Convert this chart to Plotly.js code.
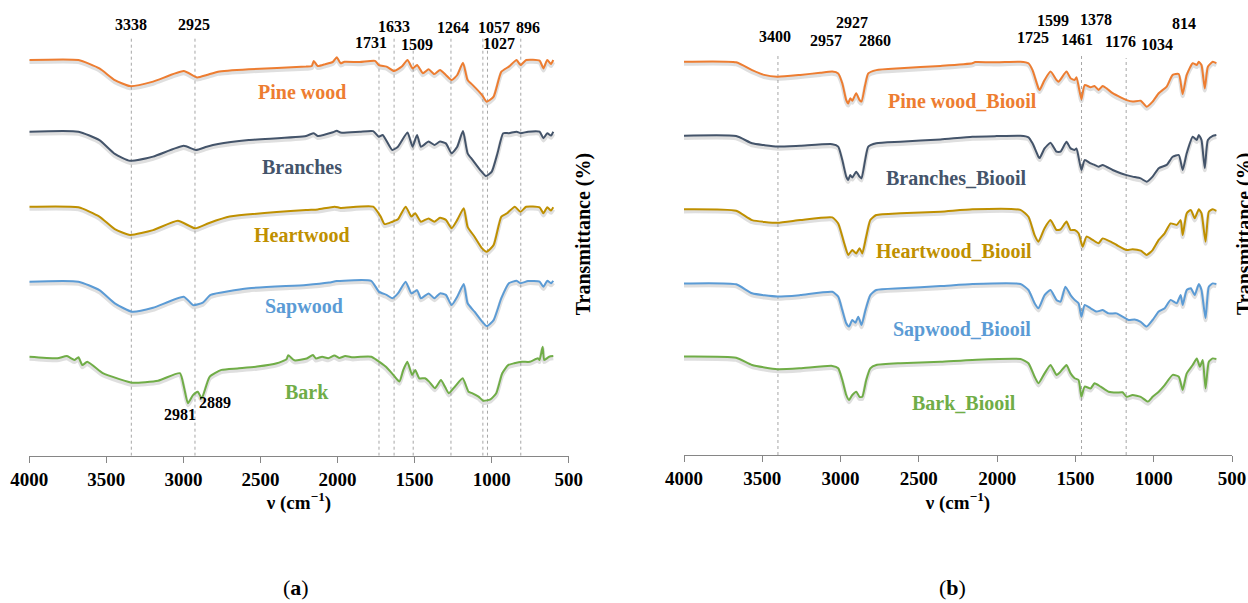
<!DOCTYPE html>
<html><head><meta charset="utf-8">
<script src="https://cdn.plot.ly/plotly-3.0.1.min.js"></script>
<style>html,body{margin:0;padding:0;background:#fff}#chart{width:1248px;height:603px}</style>
</head><body><div id="chart"></div>
<script>
// ---------- DATA (a): wood samples ----------
const seriesA = ['Pine wood','Branches','Heartwood','Sapwood','Bark'];
const offsetsA = [100, 75, 50, 25, 0];
const colors = ['#ED7D31','#44546A','#BF9000','#5B9BD5','#70AD47'];

const wnPine = [4000,3681,3545,3445,3346,3197,2998,2911,2849,2775,2576,2204,2167,2154,2129,2080,2030,2005,1980,1955,1856,1757,1732,1682,1633,1583,1546,1513,1484,1446,1409,1372,1335,1297,1260,1223,1186,1156,1124,1062,1032,987,937,888,838,813,776,689,664,639,615,600];
const tPine  = [31.9,31.9,29.1,25.2,23.2,24.7,28.2,26.1,26.9,28.0,28.8,29.7,29.9,31.6,29.9,30.5,31.3,32.8,30.8,31.3,31.2,31.6,30.2,29.7,28.2,29.7,31.9,29.1,30.2,27.5,28.8,27.2,28.6,26.9,25.2,26.9,31.0,25.2,23.6,20.2,18.0,19.7,28.0,29.7,31.9,30.2,31.9,31.7,29.1,31.9,30.6,31.9];

const wnBranches = [4000,3681,3545,3445,3346,3197,2998,2919,2849,2775,2576,2204,2154,2129,2030,2005,1980,1856,1769,1732,1707,1645,1608,1546,1513,1484,1459,1409,1372,1335,1297,1260,1223,1186,1156,1124,1074,1037,999,962,925,888,838,813,764,689,664,639,615,600];
const tBranches  = [33.0,33.0,30.2,25.6,23.3,24.7,28.3,26.9,28.0,28.9,30.2,31.6,32.5,31.6,32.8,33.3,32.7,33.0,33.2,31.3,31.9,26.9,28.0,32.7,28.0,31.9,28.0,29.7,28.6,29.7,29.1,25.8,28.0,33.2,25.8,23.6,20.2,18.2,19.7,25.8,32.5,32.5,33.0,32.5,33.0,33.0,30.8,32.5,31.7,33.0];

const wnHeart = [4000,3681,3545,3445,3346,3197,3036,2924,2837,2700,2204,2129,2018,1980,1769,1720,1695,1645,1608,1558,1521,1496,1459,1409,1372,1335,1297,1260,1223,1181,1156,1111,1062,1032,987,937,900,850,813,776,689,664,639,615,600];
const tHeart  = [33.0,32.8,29.7,25.5,23.6,25.2,28.3,25.8,27.5,29.7,31.9,32.1,33.0,32.6,33.0,29.7,27.2,28.0,28.8,33.0,29.7,30.8,28.0,29.1,28.0,29.3,28.6,25.8,28.6,32.5,26.3,23.0,19.1,18.0,20.2,29.7,30.8,33.0,31.3,33.0,32.8,30.8,32.8,31.7,32.8];

const wnSap = [4000,3681,3545,3445,3334,3197,2998,2936,2874,2824,2576,2204,2055,2005,1782,1732,1682,1645,1608,1558,1521,1484,1459,1409,1372,1335,1297,1260,1223,1181,1156,1111,1062,1032,987,937,888,838,813,764,689,664,639,615,600];
const tSap  = [33.0,33.0,30.2,25.8,23.0,24.3,28.0,25.2,26.0,28.6,30.8,31.9,32.7,33.2,33.3,29.7,28.6,27.5,29.1,33.0,29.1,30.2,27.5,29.1,27.5,29.1,28.6,25.2,28.0,32.2,25.8,23.0,19.7,18.2,20.2,27.5,32.5,33.3,32.5,33.2,33.0,31.3,33.3,32.5,33.3];

const wnBark = [4000,3818,3756,3706,3681,3656,3624,3523,3420,3330,3164,3023,2997,2971,2938,2907,2881,2830,2753,2650,2522,2394,2330,2320,2280,2200,2160,2140,2100,2060,2020,1990,1950,1900,1850,1780,1752,1688,1637,1598,1573,1547,1516,1496,1470,1432,1406,1368,1329,1303,1278,1239,1188,1150,1124,1085,1054,1008,970,931,893,854,803,752,700,689,669,659,627,600];
const tBark  = [33.0,32.5,33.2,31.9,32.8,30.2,31.3,27.5,25.6,24.3,25.0,27.5,23.0,17.5,20.2,21.3,19.1,26.3,28.6,29.1,29.7,30.8,32.2,33.5,31.8,32.4,33.6,32.4,33.0,32.5,33.4,32.6,33.2,32.8,33.0,33.0,32.1,29.7,26.9,24.7,28.6,31.3,26.9,28.6,25.8,25.8,24.7,22.5,25.2,23.0,20.8,23.0,25.8,21.3,20.8,19.7,18.3,18.8,20.8,27.5,30.2,30.8,31.3,31.3,32.5,31.9,36.3,31.9,33.0,33.2];

// ---------- DATA (b): bio-oils ----------
const seriesB = ['Pine wood_Biooil','Branches_Biooil','Heartwood_Biooil','Sapwood_Biooil','Bark_Biooil'];
const offsetsB = [100, 75, 50, 25, 0];

const wnPineB = [4000,3667,3565,3488,3404,3258,3130,3053,3015,2989,2964,2951,2938,2925,2900,2879,2866,2843,2823,2772,2618,2362,2158,2140,2004,1851,1800,1774,1736,1728,1697,1659,1621,1608,1557,1531,1505,1493,1462,1441,1403,1378,1352,1326,1301,1262,1211,1173,1135,1083,1045,1007,968,917,879,840,815,789,751,725,712,695,674,654,623,600];
const tPineB  = [31.1,30.9,28.3,26.7,26.1,26.7,27.4,27.8,27.2,23.9,18.3,17.2,18.9,18.1,20.6,18.3,17.8,23.3,27.2,28.3,28.9,29.7,30.6,31.0,30.9,31.1,30.6,28.3,22.2,21.7,25.0,27.8,25.0,24.4,27.8,25.6,25.0,25.9,18.6,23.3,22.6,23.0,21.7,23.0,22.2,20.6,19.2,18.3,17.8,18.1,16.1,17.8,20.6,22.8,26.7,27.0,20.3,26.7,30.6,30.0,31.1,30.0,22.2,29.4,31.1,30.6];

const wnBranchesB = [4000,3667,3565,3488,3404,3258,3053,3015,2989,2964,2951,2938,2925,2900,2879,2866,2843,2823,2772,2618,2362,2158,2004,1851,1800,1774,1736,1728,1697,1659,1621,1595,1557,1531,1505,1493,1462,1441,1403,1378,1352,1326,1262,1211,1173,1135,1083,1045,1007,968,917,879,840,815,789,751,725,712,695,674,654,623,600];
const tBranchesB  = [31.4,31.3,28.9,28.3,27.8,28.1,28.6,27.8,23.3,17.8,16.7,18.3,17.5,19.4,17.8,17.2,23.3,27.8,28.9,29.4,30.2,31.1,31.3,31.4,30.9,28.9,24.4,24.0,27.2,29.1,26.1,26.1,29.4,27.2,26.7,27.2,20.0,23.3,22.2,21.7,21.1,21.7,20.0,18.9,18.3,17.8,17.2,16.1,17.8,20.6,21.7,24.4,25.0,20.0,25.6,31.1,30.0,31.7,30.0,20.6,30.0,31.4,31.7];

const wnHeartB = [4000,3667,3565,3404,3258,3053,3015,2977,2951,2925,2900,2879,2861,2836,2810,2772,2618,2362,2158,1851,1800,1761,1736,1697,1659,1621,1595,1557,1531,1505,1480,1454,1429,1390,1352,1326,1275,1237,1173,1135,1083,1045,1007,968,930,892,853,828,815,789,763,738,712,695,669,648,623,600];
const tHeartB  = [31.9,31.4,28.3,27.4,28.3,29.2,27.2,20.6,16.7,18.3,17.2,18.9,17.2,22.8,28.3,30.0,30.6,31.1,31.9,31.7,29.4,23.3,21.1,25.6,28.3,25.0,25.2,27.8,25.0,25.0,23.9,19.4,22.8,21.7,20.6,22.2,21.1,20.0,18.3,18.6,18.1,16.7,18.3,21.7,23.9,27.2,26.7,28.3,23.3,30.6,31.7,28.9,31.9,30.6,21.1,31.1,31.9,31.4];

const wnSapB = [4000,3667,3565,3404,3258,3053,3015,2989,2964,2946,2925,2905,2887,2866,2841,2810,2772,2618,2362,2158,1851,1800,1761,1736,1697,1659,1621,1595,1564,1531,1505,1480,1462,1441,1403,1365,1326,1288,1237,1199,1160,1122,1083,1045,1007,968,930,892,853,828,815,789,763,738,712,695,669,648,623,600];
const tSapB  = [32.2,31.9,28.9,27.8,28.3,29.4,27.8,23.3,18.9,17.8,20.0,19.1,21.1,18.3,23.3,28.3,30.0,30.6,31.3,32.0,32.0,30.0,25.6,23.9,28.3,30.0,26.7,26.1,31.1,28.3,26.7,25.6,21.1,25.0,23.9,22.8,23.3,22.2,22.2,21.1,20.0,20.2,19.4,17.8,20.0,22.8,23.9,26.7,25.6,28.3,25.0,30.0,30.6,28.3,32.0,30.0,20.6,31.1,32.2,32.0];

const wnBarkB = [4000,3667,3565,3404,3258,3053,3015,2989,2964,2946,2925,2900,2879,2861,2836,2810,2772,2618,2362,2158,1851,1800,1761,1736,1697,1659,1621,1595,1557,1531,1505,1480,1462,1441,1403,1378,1339,1288,1237,1199,1173,1135,1083,1037,1007,968,930,879,840,815,789,751,725,705,687,669,648,623,600];
const tBarkB  = [32.8,32.4,30.0,28.6,28.9,29.7,28.9,25.0,20.0,18.3,20.0,21.1,19.4,19.4,25.0,28.9,30.0,30.6,31.1,31.7,32.0,30.6,26.1,23.9,27.2,30.0,26.7,27.8,30.0,27.2,25.6,25.0,19.4,22.8,22.2,23.9,22.8,21.1,20.8,20.9,19.4,20.0,19.4,17.8,19.4,21.1,23.3,26.7,26.1,21.7,27.2,30.0,32.2,29.4,31.7,22.2,31.1,32.2,32.0];

// peak labels and marked bands
const peakTextA = ['3338','2925','1633','1731','1509','1264','1057','896','1027','2981','2889'];
const peakPosA  = [[3341,143.6],[2929,143.6],[1633,143.0],[1783,137.8],[1484,137.2],[1251,142.8],[987,142.8],[764,142.8],[950,137.5],[3022,13.9],[2792,17.8]];
const bandsA = [3338,2925,1731,1633,1509,1264,1057,1027,811];
const bandTopA = [139.6,139.6,136.2,139.6,135.2,139.6,139.6,135.2,139.6];

const peakTextB = ['3400','2957','2927','2860','1725','1599','1461','1378','1176','1034','814'];
const peakPosB  = [[3416,139.4],[3091,138.1],[2925,144.2],[2777,138.3],[1774,139.2],[1641,145.0],[1492,138.6],[1370,145.3],[1211,137.8],[981,136.7],[807,143.7]];
const bandsB = [3400,1461,1176];
const bandTopB = [133.3,133.3,132.3];

const labelPosA = [[2229,21.2],[2229,21.3],[2229,23.6],[2215,24.7],[2201,21.3]];
const labelPosB = [[2222,18.0],[2260,17.2],[2273,18.1],[2222,16.7],[2209,17.4]];

const ticks = [4000,3500,3000,2500,2000,1500,1000,500];

// ---------- BUILD ----------
const SERIF = 'Liberation Serif';
const dataA = [[wnPine,tPine],[wnBranches,tBranches],[wnHeart,tHeart],[wnSap,tSap],[wnBark,tBark]];
const dataB = [[wnPineB,tPineB],[wnBranchesB,tBranchesB],[wnHeartB,tHeartB],[wnSapB,tSapB],[wnBarkB,tBarkB]];

const traces = [];
function addSet(set, offsets, names, xa, ya) {
  set.forEach((d, i) => {
    const y = d[1].map(v => v + offsets[i]);
    traces.push({x: d[0], y: y.map(v => v - 0.7), xaxis: xa, yaxis: ya, mode: 'lines',
      line: {color: 'rgba(140,140,140,0.28)', width: 4, shape: 'spline', smoothing: 0.5},
      hoverinfo: 'skip', showlegend: false});
    traces.push({x: d[0], y: y, xaxis: xa, yaxis: ya, mode: 'lines', name: names[i],
      line: {color: colors[i], width: 2, shape: 'spline', smoothing: 0.5}, showlegend: false});
  });
}
addSet(dataA, offsetsA, seriesA, 'x', 'y');
addSet(dataB, offsetsB, seriesB, 'x2', 'y2');

const annotations = [];
function ann(o) { annotations.push(Object.assign({showarrow: false, xanchor: 'center', yanchor: 'middle'}, o)); }
seriesA.forEach((s, i) => ann({xref: 'x', yref: 'y', x: labelPosA[i][0], y: labelPosA[i][1] + offsetsA[i],
  text: '<b>' + s + '</b>', font: {family: SERIF, size: 20, color: colors[i]}}));
seriesB.forEach((s, i) => ann({xref: 'x2', yref: 'y2', x: labelPosB[i][0], y: labelPosB[i][1] + offsetsB[i],
  text: '<b>' + s + '</b>', font: {family: SERIF, size: 20, color: colors[i]}}));
peakTextA.forEach((t, i) => ann({xref: 'x', yref: 'y', x: peakPosA[i][0], y: peakPosA[i][1],
  text: '<b>' + t + '</b>', font: {family: SERIF, size: 16, color: '#000'}}));
peakTextB.forEach((t, i) => ann({xref: 'x2', yref: 'y2', x: peakPosB[i][0], y: peakPosB[i][1],
  text: '<b>' + t + '</b>', font: {family: SERIF, size: 16, color: '#000'}}));
[583.3/1248, 1244/1248].forEach(px => ann({xref: 'paper', yref: 'paper', x: px, y: (603-234)/603,
  text: '<b>Transmittance (%)</b>', textangle: -90, font: {family: SERIF, size: 20, color: '#000'}}));
[['(<b>a</b>)', 296/1248], ['(<b>b</b>)', 952/1248]].forEach(p => ann({xref: 'paper', yref: 'paper', x: p[1], y: (603-587)/603,
  text: p[0], font: {family: SERIF, size: 22, color: '#000'}}));

const shapes = [];
bandsA.forEach((b, i) => shapes.push({type: 'line', xref: 'x', yref: 'y', x0: b, x1: b, y0: 0, y1: bandTopA[i],
  line: {color: '#a6a6a6', width: 1, dash: 'dot'}, layer: 'below'}));
bandsB.forEach((b, i) => shapes.push({type: 'line', xref: 'x2', yref: 'y2', x0: b, x1: b, y0: 0, y1: bandTopB[i],
  line: {color: '#a6a6a6', width: 1, dash: 'dot'}, layer: 'below'}));

function xaxis(domain) {
  return {domain: domain, range: [4000, 500], tickmode: 'array', tickvals: ticks, ticktext: ticks.map(t => '<b>' + t + '</b>'),
    ticks: 'outside', ticklen: 6, tickcolor: '#868686', tickwidth: 1, showline: true, linecolor: '#868686', linewidth: 1,
    showgrid: false, zeroline: false, fixedrange: true, automargin: false,
    tickfont: {family: SERIF, size: 19, color: '#000'},
    title: {text: '<b>ν (cm<sup>−1</sup>)</b>', font: {family: SERIF, size: 19, color: '#000'}, standoff: 4}};
}
function yaxis(bottomPx, anchor) {
  return {domain: [(603 - bottomPx)/603, 1], range: [0, bottomPx/3], visible: false, showgrid: false, zeroline: false, fixedrange: true, anchor: anchor};
}

const layout = {
  width: 1248, height: 603, margin: {l: 0, r: 0, t: 0, b: 0},
  font: {family: SERIF, color: '#000'},
  paper_bgcolor: '#fff', plot_bgcolor: 'rgba(0,0,0,0)', showlegend: false,
  xaxis: Object.assign(xaxis([29.3/1248, 568.7/1248]), {anchor: 'y'}),
  yaxis: yaxis(455.7, 'x'),
  xaxis2: Object.assign(xaxis([684/1248, 1232/1248]), {anchor: 'y2'}),
  yaxis2: yaxis(455, 'x2'),
  annotations: annotations, shapes: shapes
};
Plotly.newPlot('chart', traces, layout, {displayModeBar: false, staticPlot: true});
</script></body></html>
